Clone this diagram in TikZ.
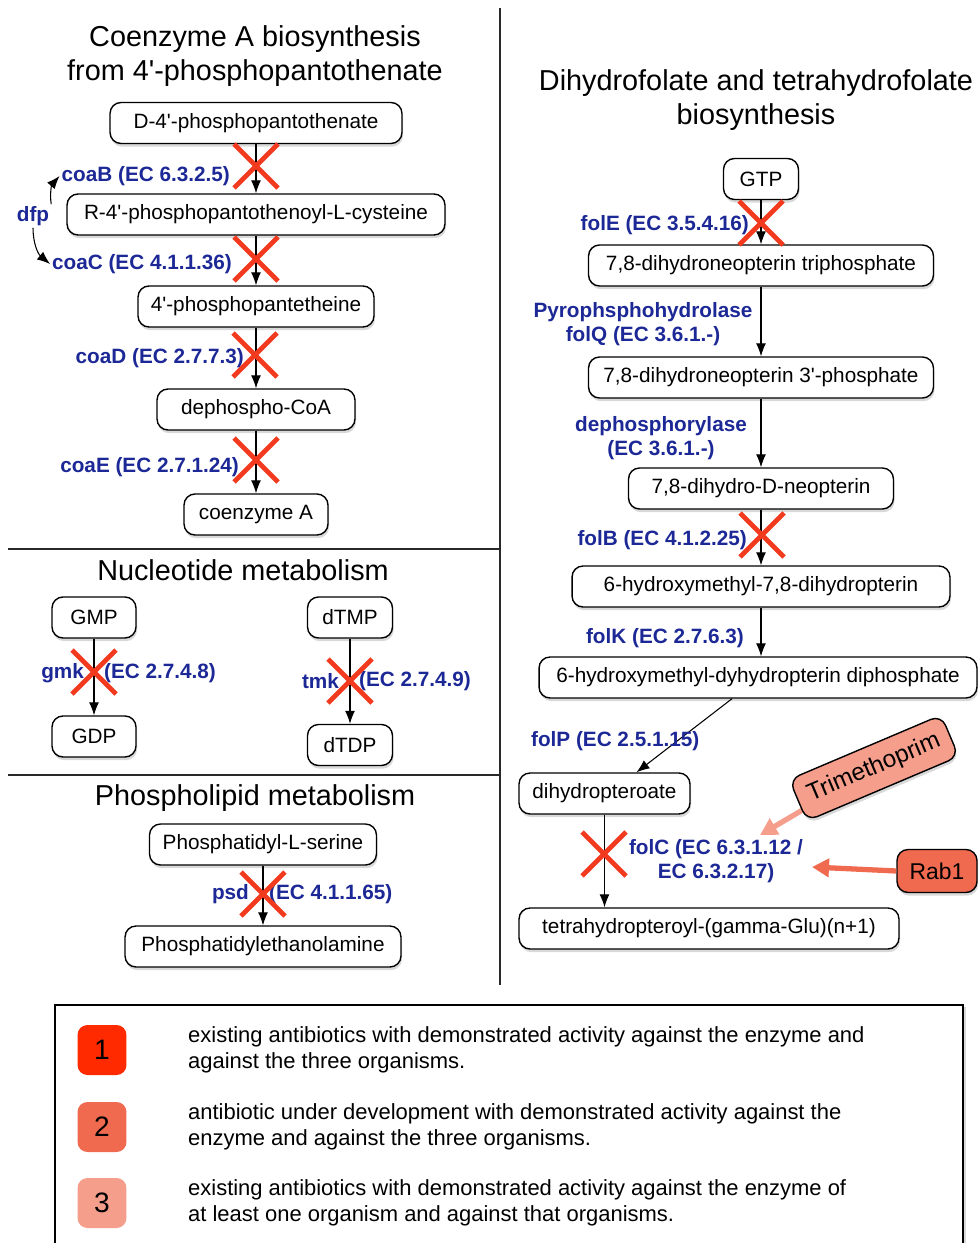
\documentclass[tikz,border=0pt]{standalone}
\usepackage{fontspec}
\setmainfont{Liberation Sans}
\usetikzlibrary{arrows.meta, shadows, calc, backgrounds}

\definecolor{enzblue}{RGB}{28,40,150}
\definecolor{kored}{RGB}{242,58,30}
\definecolor{prio1}{RGB}{255,42,0}
\definecolor{prio2}{RGB}{240,106,80}
\definecolor{prio3}{RGB}{246,158,140}
\definecolor{sepgray}{RGB}{40,40,40}

\newcommand{\apos}{\textquotesingle}

\tikzset{
    metab/.style = {draw, fill = white, rounded corners = 0.22cm, line width = 0.8pt,
        minimum height = 0.82cm, inner xsep = 0pt, font = \fontsize{11.8}{14}\selectfont,
        drop shadow = {shadow xshift = 0.6pt, shadow yshift = -1.8pt, opacity = 0.3}},
    enz/.style = {text = enzblue, inner sep = 1pt, font = \fontsize{11.8}{13.6}\selectfont\bfseries},
    ttl/.style = {align = center, font = \fontsize{16.4}{19.3}\selectfont},
    arr/.style = {line width = 0.6pt, -{Latex[length = 2.6mm, width = 2mm]}},
    ko/.style = {kored, line width = 2.8pt},
    prio/.style = {rounded corners = 0.2cm, minimum width = 0.98cm, minimum height = 1cm,
        font = \fontsize{16}{18}\selectfont},
    legtxt/.style = {align = left, font = \fontsize{12.5}{14.7}\selectfont},
    inhib/.style = {line width = 3pt, -{Triangle[length = 3.4mm, width = 3.6mm]}},
}

\begin{document}
\begin{tikzpicture}[x = 0.02cm, y = -0.02cm]
    \clip (0, 0) rectangle (978, 1243);

    % separators
    \draw[sepgray, line width = 1pt] (500, 8) -- (500, 985);
    \draw[sepgray, line width = 1pt] (8, 549) -- (500, 549);
    \draw[sepgray, line width = 1pt] (8, 775) -- (500, 775);

    % coenzyme A
    \node[ttl] at (255, 56){Coenzyme A biosynthesis\\from 4\apos-phosphopantothenate};
    \node[metab, minimum width = 5.84cm] (pan) at (256, 123){D-4\apos-phosphopantothenate};
    \node[metab, minimum width = 7.56cm] (cys) at (256, 214.5){R-4\apos-phosphopantothenoyl-L-cysteine};
    \node[metab, minimum width = 4.72cm] (pant) at (256, 306.5){4\apos-phosphopantetheine};
    \node[metab, minimum width = 3.96cm] (dpcoa) at (256, 409.5){dephospho-CoA};
    \node[metab, minimum width = 2.88cm] (coa) at (256, 514.5){coenzyme A};

    \draw[arr] (pan) -- (cys);
    \draw[arr] (cys) -- (pant);
    \draw[arr] (pant) -- (dpcoa);
    \draw[arr] (dpcoa) -- (coa);

    \node[enz, anchor = east] (coab) at (232, 176){coaB (EC 6.3.2.5)};
    \node[enz] (dfp) at (33, 216){dfp};
    \node[enz, anchor = east] (coac) at (234, 264){coaC (EC 4.1.1.36)};
    \node[enz, anchor = east] (coad) at (246, 358){coaD (EC 2.7.7.3)};
    \node[enz, anchor = east] (coae) at (241, 467){coaE (EC 2.7.1.24)};

    \draw[arr] (dfp.north east) to[bend left = 25] (coab.west);
    \draw[arr] (dfp.south) to[bend right = 25] (coac.west);

    % nucleotides
    \node[ttl] at (243, 570){Nucleotide metabolism};
    \node[metab, minimum width = 1.68cm] (gmp) at (94, 617.5){GMP};
    \node[metab, minimum width = 1.68cm] (gdp) at (94, 736.5){GDP};
    \node[metab, minimum width = 1.7cm] (dtmp) at (350, 617.5){dTMP};
    \node[metab, minimum width = 1.7cm] (dtdp) at (350, 745){dTDP};

    \draw[arr] (gmp) -- (gdp);
    \draw[arr] (dtmp) -- (dtdp);

    \node[enz, anchor = east] (gmk) at (86, 673){gmk};
    \node[enz, anchor = west] (gmkec) at (102, 673){(EC 2.7.4.8)};
    \node[enz, anchor = east] (tmk) at (341, 681){tmk};
    \node[enz, anchor = west] (tmkec) at (357, 681){(EC 2.7.4.9)};

    % phospholipids
    \node[ttl] at (255, 798){Phospholipid metabolism};
    \node[metab, minimum width = 4.54cm] (pser) at (263, 844.5){Phosphatidyl-L-serine};
    \node[metab, minimum width = 5.52cm] (peth) at (263, 946.5){Phosphatidylethanolamine};
    \draw[arr] (pser) -- (peth);
    \node[enz, anchor = east] (psd) at (251, 894){psd};
    \node[enz, anchor = west] (psdec) at (267, 894){(EC 4.1.1.65)};

    % folate
    \node[ttl] at (756, 100){Dihydrofolate and tetrahydrofolate\\biosynthesis};
    \node[metab, minimum width = 1.5cm] (gtp) at (761, 179){GTP};
    \node[metab, minimum width = 6.9cm] (dntp) at (761, 265.5){7,8-dihydroneopterin triphosphate};
    \node[metab, minimum width = 6.9cm] (dnmp) at (761, 377.5){7,8-dihydroneopterin 3\apos-phosphate};
    \node[metab, minimum width = 5.3cm] (dhn) at (761, 488.5){7,8-dihydro-D-neopterin};
    \node[metab, minimum width = 7.56cm] (hmdp) at (761, 586.5){6-hydroxymethyl-7,8-dihydropterin};
    \node[metab, minimum width = 8.76cm] (hmpp) at (758, 677.5){6-hydroxymethyl-dyhydropterin diphosphate};
    \node[metab, minimum width = 3.42cm] (dhp) at (604.5, 793.5){dihydropteroate};
    \node[metab, minimum width = 7.6cm] (thf) at (709, 928.5){tetrahydropteroyl-(gamma-Glu)(n+1)};

    \draw[arr] (gtp) -- (dntp);
    \draw[arr] (dntp) -- (dnmp);
    \draw[arr] (dnmp) -- (dhn);
    \draw[arr] (dhn) -- (hmdp);
    \draw[arr] (hmdp.south) -- (hmdp.south |- hmpp.north);
    \draw[arr] ($(hmpp.south) + (-26, 0)$) -- ($(dhp.north) + (32, 0)$);
    \draw[arr] (dhp.south) -- (dhp.south |- thf.north);

    \node[enz, anchor = east] (fole) at (751, 225){folE (EC 3.5.4.16)};
    \node[enz, align = center] (folq) at (643, 324){Pyrophsphohydrolase\\folQ (EC 3.6.1.-)};
    \node[enz, align = center] (dephos) at (661, 438){dephosphorylase\\(EC 3.6.1.-)};
    \node[enz, anchor = east] (folb) at (749, 540){folB (EC 4.1.2.25)};
    \node[enz, anchor = east] (folk) at (746, 638){folK (EC 2.7.6.3)};
    \node[enz, anchor = west] (folp) at (529, 741){folP (EC 2.5.1.15)};
    \node[enz, align = center] (folc) at (716, 861){folC (EC 6.3.1.12 /\\EC 6.3.2.17)};

    % knocked out steps
    \foreach \cx/\cy in {256/166, 256/259, 255/355, 256/460, 94/672, 350/681, 263/894, 761/223, 762/535, 604/854}
        \draw[ko] (\cx - 22, \cy - 22) -- (\cx + 22, \cy + 22) (\cx - 22, \cy + 22) -- (\cx + 22, \cy - 22);

    % inhibitors
    \node[metab, fill = prio3, rotate = 23, minimum width = 3.3cm, minimum height = 0.9cm,
        font = \fontsize{13.8}{16}\selectfont] (tmp) at (874, 768){Trimethoprim};
    \node[metab, fill = prio2, minimum width = 1.6cm, minimum height = 0.86cm,
        font = \fontsize{13}{15}\selectfont] (rab) at (937, 871){Rab1};
    \coordinate (tmptip) at (760, 835);
    \coordinate (rabtip) at (812, 867);
    \begin{scope}[on background layer]
        \draw[inhib, prio3] (tmp.center) -- (tmptip);
    \end{scope}
    \draw[inhib, prio2] (rab.west) -- (rabtip);

    % legend
    \draw[fill = white, line width = 0.8pt, drop shadow = {shadow xshift = 1.5pt, shadow yshift = -1pt, opacity = 0.3}]
        (55, 1005) rectangle (963, 1260);
    \foreach \n/\c/\yy/\txt in {
        1/prio1/1050/{existing antibiotics with demonstrated activity against the enzyme and\\against the three organisms.},
        2/prio2/1127/{antibiotic under development with demonstrated activity against the\\enzyme and against the three organisms.},
        3/prio3/1203/{existing antibiotics with demonstrated activity against the enzyme of\\at least one organism and against that organisms.}} {
        \node[prio, fill = \c] (key\n) at (102, \yy){\n};
        \node[legtxt, anchor = west] (txt\n) at (182, \yy){\txt};
    }
\end{tikzpicture}
\end{document}
